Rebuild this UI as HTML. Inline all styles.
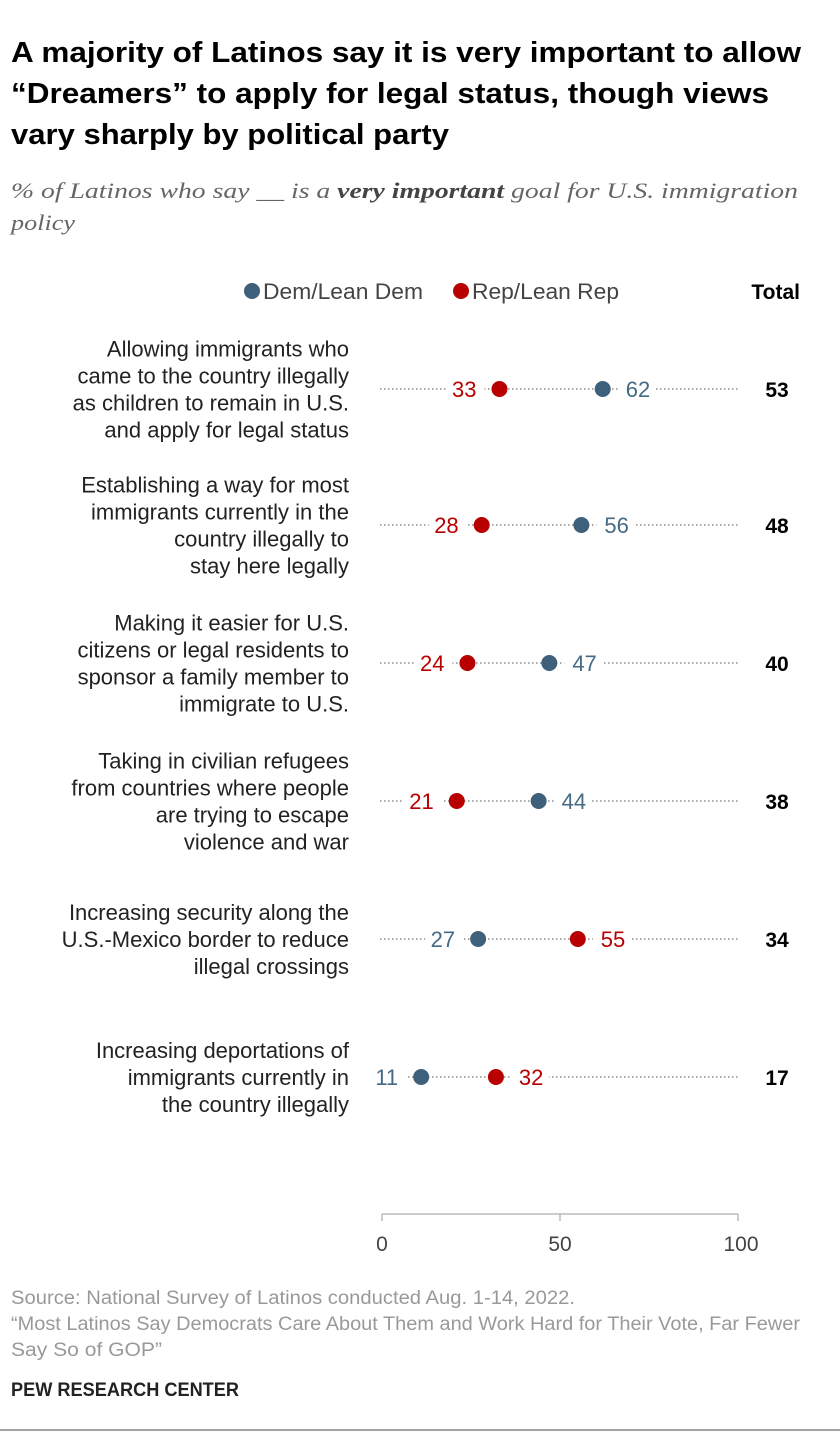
<!DOCTYPE html>
<html><head><meta charset="utf-8"><style>
body{margin:0;background:#fff;width:840px;height:1438px;overflow:hidden;font-family:"Liberation Sans",sans-serif;}
</style></head><body>
<svg width="840" height="1438" xmlns="http://www.w3.org/2000/svg" style="font-family:'Liberation Sans',sans-serif">
<g font-size="29" font-weight="bold" fill="#000" lengthAdjust="spacingAndGlyphs">
<text x="11" y="62" textLength="790" lengthAdjust="spacingAndGlyphs">A majority of Latinos say it is very important to allow</text>
<text x="11" y="103" textLength="758" lengthAdjust="spacingAndGlyphs">“Dreamers” to apply for legal status, though views</text>
<text x="11" y="144" textLength="438" lengthAdjust="spacingAndGlyphs">vary sharply by political party</text>
</g>
<g font-family="Liberation Serif, serif" font-style="italic" font-size="22" fill="#666">
<text x="11" y="198" textLength="787" lengthAdjust="spacingAndGlyphs">% of Latinos who say __ is a <tspan font-weight="bold" fill="#444">very important</tspan> goal for U.S. immigration</text>
<text x="11" y="230" textLength="64" lengthAdjust="spacingAndGlyphs">policy</text>
</g>
<g font-size="22" fill="#444">
<circle cx="252" cy="291" r="8" fill="#3f607b"/><text x="263" y="299" textLength="160" lengthAdjust="spacingAndGlyphs">Dem/Lean Dem</text>
<circle cx="461" cy="291" r="8" fill="#b80000"/><text x="472" y="299" textLength="147" lengthAdjust="spacingAndGlyphs">Rep/Lean Rep</text>
<text x="800" y="299" text-anchor="end" font-weight="bold" fill="#000" font-size="21">Total</text>
</g>
<g id="rows"></g>
<g id="axis"></g>
<g font-size="19" fill="#999">
<text x="11" y="1304" textLength="564" lengthAdjust="spacingAndGlyphs">Source: National Survey of Latinos conducted Aug. 1-14, 2022.</text>
<text x="11" y="1330" textLength="789" lengthAdjust="spacingAndGlyphs">“Most Latinos Say Democrats Care About Them and Work Hard for Their Vote, Far Fewer</text>
<text x="11" y="1356" textLength="151" lengthAdjust="spacingAndGlyphs">Say So of GOP”</text>
<text x="11" y="1396" font-weight="bold" fill="#222" font-size="19" textLength="228" lengthAdjust="spacingAndGlyphs">PEW RESEARCH CENTER</text>
</g>
<line x1="0" y1="1430" x2="840" y2="1430" stroke="#444" stroke-width="1"/>
</svg>
<script>
const categories=[
["Allowing immigrants who","came to the country illegally","as children to remain in U.S.","and apply for legal status"],
["Establishing a way for most","immigrants currently in the","country illegally to","stay here legally"],
["Making it easier for U.S.","citizens or legal residents to","sponsor a family member to","immigrate to U.S."],
["Taking in civilian refugees","from countries where people","are trying to escape","violence and war"],
["Increasing security along the","U.S.-Mexico border to reduce","illegal crossings"],
["Increasing deportations of","immigrants currently in","the country illegally"]];
const demValues=[62,56,47,44,27,11];
const repValues=[33,28,24,21,55,32];
const totalValues=[53,48,40,38,34,17];
const tickValues=[0,50,100];
const rowY=[389,525,663,801,939,1077];
const NS="http://www.w3.org/2000/svg";
const x=v=>382+v*3.56;
function mk(t,a,p){const e=document.createElementNS(NS,t);for(const k in a)e.setAttribute(k,a[k]);p.appendChild(e);return e;}
const rows=document.getElementById('rows');
categories.forEach((c,i)=>{
 const y=rowY[i];
 const g=mk('g',{},rows);
 
 
 const lh=27, n=c.length, y0=y-(n-1)*lh/2+8;
 c.forEach((l,j)=>{const t=mk('text',{x:349,y:y0+j*lh,'text-anchor':'end','font-size':22,fill:'#222'},g);t.textContent=l;});
 const ln=mk('line',{x1:380,x2:740,y1:y,y2:y,stroke:'#777','stroke-width':1.3,'stroke-dasharray':'1.5 2.5'},g);
 
 
 const d=demValues[i],r=repValues[i];
 const pairs=[[d,'#3f607b','#456a84','dem'],[r,'#b80000','#b80000','rep']];
 pairs.forEach(([v,col,tc,nm])=>{
  const other=nm==='dem'?r:d;
  const right=v>other;
  const tx=right?x(v)+23:x(v)-23;
  const w=34;
  mk('rect',{x:right?tx-8:tx-w+4,y:y-14,width:w+4,height:28,fill:'#fff'},g);
  const t=mk('text',{x:tx,y:y+8,'text-anchor':right?'start':'end','font-size':22,fill:tc},g);
  t.textContent=v;
  
  
 });
 pairs.forEach(([v,col,tc,nm])=>{
  const cc=mk('circle',{cx:x(v),cy:y,r:8,fill:col},g);
  
  
 });
 mk('rect',{x:742,y:y-13,width:70,height:26,fill:'#fff'},g);
 const tt=mk('text',{x:777,y:y+8,'text-anchor':'middle','font-size':21,'font-weight':'bold',fill:'#000'},g);
 tt.textContent=totalValues[i];
 
 
});
const ax=document.getElementById('axis');
mk('line',{x1:x(0),x2:x(100),y1:1214,y2:1214,stroke:'#bbb','stroke-width':1.5},ax);
tickValues.forEach(v=>{
 mk('line',{x1:x(v),x2:x(v),y1:1214,y2:1221,stroke:'#bbb','stroke-width':1.5},ax);
 const t=mk('text',{x:x(v)+(v===100?3:0),y:1251,'text-anchor':'middle','font-size':21,fill:'#444'},ax);
 t.textContent=v;
 
 
});
</script>
</body></html>
